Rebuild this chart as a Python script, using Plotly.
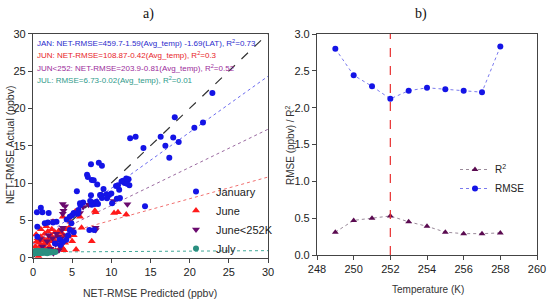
import plotly.graph_objects as go

# ---------------- Panel a data ----------------
jan_pred = [22.9, 18.1, 20.6, 21.7, 12.4, 13.1, 16.3, 17.9, 16.9, 18.6, 14.1, 17.4,
            7.4, 8.4, 8.8, 6.9, 7.5, 7.75, 8.2, 5.6, 11.3, 11.7, 12.2, 12.3, 10.6, 11.0,
            9.7, 9.45, 8.7, 10.7, 10.1, 14.3, 7.4, 8.56, 6.4, 6.05, 7.6, 7.9, 7.5, 8.1,
            1.0, 0.5, 2.0, 5.8, 5.2, 5.0, 5.7, 1.5, 1.9, 3.0, 4.3, 4.7, 0.55, 7.2, 7.8,
            4.7, 5.2, 4.25, 3.5, 2.8, 10.85, 11.5, 12.0, 11.1, 9.4, 8.8, 6.0, 7.3, 8.3,
            1.2, 2.55, 4.9, 0.56, 4.5, 3.4, 3.8, 7.0, 9.0, 11.9, 10.0]
jan_act = [22.05, 18.8, 17.4, 18.1, 16.0, 16.2, 16.2, 16.1, 15.0, 15.5, 14.7, 13.4,
           12.5, 12.7, 12.3, 11.1, 10.4, 10.36, 9.8, 8.9, 10.2, 10.0, 10.5, 9.7, 9.6, 9.1,
           8.4, 7.95, 8.4, 7.9, 7.3, 6.9, 8.35, 8.4, 7.4, 7.05, 7.4, 7.2, 7.1, 7.5,
           6.7, 6.1, 6.0, 6.4, 6.0, 5.7, 5.9, 4.6, 4.7, 4.8, 5.1, 5.5, 4.15, 3.7, 3.7,
           3.7, 3.4, 2.4, 1.7, 1.9, 9.7, 10.3, 9.9, 8.0, 8.5, 8.0, 7.3, 7.6, 7.2,
           6.1, 4.7, 4.6, 2.8, 3.0, 2.4, 2.1, 10.8, 9.2, 10.6, 8.6]

jun_pred = [0.7, 0.3, 0.5, 0.8, 1.0, 1.2, 1.4, 1.5, 1.6, 1.8, 2.0, 2.1, 2.3, 2.5, 2.6,
            2.8, 3.0, 3.1, 3.3, 3.5, 3.7, 3.9, 4.1, 4.3, 4.6, 4.8, 5.2, 5.5, 2.55, 1.0,
            0.4, 1.3, 0.9, 2.2, 3.8, 5.4, 6.0, 7.9, 8.0, 10.85, 10.35, 11.9, 7.5, 1.7,
            2.9, 4.0, 1.1, 0.6, 1.9, 3.4, 2.4, 4.5, 6.2, 5.0, 0.2, 1.5, 2.7, 3.6, 0.9, 2.0]
jun_act = [0.2, 1.5, 2.2, 2.0, 2.8, 1.6, 2.4, 3.2, 1.2, 2.0, 2.6, 1.5, 3.0, 2.2, 1.0,
           3.4, 2.8, 1.8, 3.6, 2.5, 1.4, 3.0, 2.0, 3.8, 4.0, 4.8, 3.0, 1.1, 4.8, 3.8,
           3.1, 0.9, 1.1, 0.7, 5.5, 6.2, 5.5, 6.3, 6.1, 6.1, 6.0, 5.8, 2.2, 4.2,
           0.9, 1.0, 2.3, 2.6, 3.5, 1.2, 3.8, 2.8, 4.0, 2.2, 0.9, 1.9, 2.4, 3.3, 1.6, 1.0]

jun252_pred = [3.8, 4.1, 2.7, 3.8, 3.9, 8.0, 8.0, 10.3, 12.05, 3.7, 3.8, 6.4, 6.0,
               1.2, 1.8, 2.2, 2.5, 2.9, 3.2, 3.5, 4.0, 1.5, 2.6, 3.0, 3.6, 0.9,
               2.0, 4.2, 5.0, 1.0, 3.3, 7.1]
jun252_act = [7.2, 6.9, 4.9, 5.9, 6.3, 3.7, 4.0, 7.6, 7.15, 3.7, 4.0, 6.8, 6.0,
              1.5, 2.2, 1.2, 2.6, 1.8, 2.8, 1.5, 2.2, 0.8, 0.6, 3.2, 2.6, 2.5,
              3.0, 3.0, 3.8, 0.8, 1.0, 7.1]

jul_pred = [0.05, 0.12, 0.2, 0.28, 0.35, 0.42, 0.5, 0.58, 0.65, 0.72, 0.8, 0.88, 0.95,
            1.02, 1.1, 1.18, 1.25, 1.32, 1.4, 1.48, 1.55, 1.62, 1.7, 1.78, 1.85, 1.92,
            2.0, 2.08, 2.15, 2.25, 2.35, 2.5, 2.65, 2.85, 0.3, 0.6, 0.9, 1.2, 1.5, 1.8]
jul_act = [0.75, 0.65, 0.82, 0.7, 0.9, 0.72, 0.62, 0.85, 0.75, 0.68, 0.8, 0.72, 0.88,
           0.7, 0.78, 0.64, 0.84, 0.74, 0.7, 0.8, 0.66, 0.76, 0.86, 0.72, 0.7, 0.8,
           0.74, 0.68, 0.82, 0.76, 0.72, 0.8, 0.75, 0.78, 0.6, 0.92, 0.62, 0.9, 0.86, 0.6]

# fitted lines (intercept, slope) of Actual vs Predicted
fit_names = ["January", "June", "June<252K", "July"]
fit_intercepts = [1.8, 2.1, 1.9, 0.75]
fit_slopes = [0.75, 0.29, 0.51, 0.0065]
fit_colors = ["#6a6aee", "#f07070", "#9a6aa0", "#40a898"]

eq_texts = [
    "JAN: NET-RMSE=459.7-1.59(Avg_temp) -1.69(LAT), R<sup>2</sup>=0.73",
    "JUN: NET-RMSE=108.87-0.42(Avg_temp), R<sup>2</sup>=0.3",
    "JUN<252: NET-RMSE=203.9-0.81(Avg_temp), R<sup>2</sup>=0.52",
    "JUL: RMSE=6.73-0.02(Avg_temp), R<sup>2</sup>=0.01",
]
eq_colors = ["#2a2acc", "#e8242a", "#9b2c9b", "#2f9a8a"]

# ---------------- Panel b data ----------------
temps = [249, 250, 251, 252, 253, 254, 255, 256, 257, 258]
rmse_vals = [2.80, 2.44, 2.29, 2.12, 2.23, 2.27, 2.25, 2.23, 2.21, 2.83]
r2_vals = [0.31, 0.47, 0.50, 0.53, 0.45, 0.39, 0.31, 0.29, 0.29, 0.30]
threshold_temp = 252

FONT = "Liberation Sans, Arial, sans-serif"

fig = go.Figure()

# 1:1 line
fig.add_trace(go.Scatter(x=[0, 30], y=[0, 30], mode="lines",
                         line=dict(color="#333333", width=1.2, dash="dash"),
                         showlegend=False, hoverinfo="skip", xaxis="x", yaxis="y"))
for b0, b1, c in zip(fit_intercepts, fit_slopes, fit_colors):
    xs = [0, 30]
    fig.add_trace(go.Scatter(x=xs, y=[b0 + b1 * v for v in xs], mode="lines",
                             line=dict(color=c, width=1, dash="dot"),
                             showlegend=False, hoverinfo="skip", xaxis="x", yaxis="y"))

fig.add_trace(go.Scatter(x=jun_pred, y=jun_act, mode="markers", name="June",
                         marker=dict(symbol="triangle-up", size=7, color="#ff1a1a"),
                         legend="legend", legendrank=2, xaxis="x", yaxis="y"))
fig.add_trace(go.Scatter(x=jun252_pred, y=jun252_act, mode="markers", name="June<252K",
                         marker=dict(symbol="triangle-down", size=7, color="#6a0a6e"),
                         legend="legend", legendrank=3, xaxis="x", yaxis="y"))
fig.add_trace(go.Scatter(x=jan_pred, y=jan_act, mode="markers", name="January",
                         marker=dict(symbol="circle", size=6, color="#1414e6"),
                         legend="legend", legendrank=1, xaxis="x", yaxis="y"))
fig.add_trace(go.Scatter(x=jul_pred, y=jul_act, mode="markers", name="July",
                         marker=dict(symbol="circle", size=6, color="#2a8f80"),
                         legend="legend", legendrank=4, xaxis="x", yaxis="y"))

# Panel b
fig.add_trace(go.Scatter(x=temps, y=r2_vals, mode="lines+markers", name="R<sup>2</sup>",
                         line=dict(color="#9a8a9a", width=1, dash="dot"),
                         marker=dict(symbol="triangle-up", size=6, color="#5a0a50"),
                         legend="legend2", xaxis="x2", yaxis="y2"))
fig.add_trace(go.Scatter(x=temps, y=rmse_vals, mode="lines+markers", name="RMSE",
                         line=dict(color="#7a7aee", width=1, dash="dot"),
                         marker=dict(symbol="circle", size=6, color="#1414e6"),
                         legend="legend2", xaxis="x2", yaxis="y2"))

fig.add_shape(type="line", xref="x2", yref="y2 domain", x0=threshold_temp, x1=threshold_temp,
              y0=0, y1=1, line=dict(color="#e83030", width=1.2, dash="dash"))

axis_common = dict(showgrid=False, zeroline=False, showline=True, mirror=True, automargin=False,
                   linecolor="#444444", linewidth=1.2, ticks="outside", ticklen=4,
                   tickcolor="#444444", tickfont=dict(family=FONT, size=11, color="#222222"))

W, H = 550, 301
fig.update_layout(
    width=W, height=H, margin=dict(l=0, r=0, t=0, b=0, autoexpand=False),
    plot_bgcolor="white", paper_bgcolor="white",
    xaxis=dict(domain=[33 / W, 268 / W], range=[0, 30], tickvals=[0, 5, 10, 15, 20, 25, 30],
               anchor="y", **axis_common),
    yaxis=dict(domain=[1 - 257.7 / H, 1 - 33.7 / H], range=[0, 30],
               tickvals=[0, 5, 10, 15, 20, 25, 30], anchor="x", **axis_common),
    xaxis2=dict(domain=[317 / W, 537 / W], range=[248, 260], tickvals=list(range(248, 261, 2)),
                anchor="y2", **axis_common),
    yaxis2=dict(domain=[1 - 255 / H, 1 - 34 / H], range=[0, 3],
                tickvals=[0, 0.5, 1, 1.5, 2, 2.5, 3], tickformat=".1f", anchor="x2", **axis_common),
    legend=dict(x=176 / W, y=1 - 177 / H, xanchor="left", yanchor="top",
                bgcolor="rgba(0,0,0,0)", font=dict(family=FONT, size=11, color="#222222"),
                tracegroupgap=0, itemwidth=30),
    legend2=dict(x=455 / W, y=1 - 155 / H, xanchor="left", yanchor="top",
                 bgcolor="rgba(0,0,0,0)", font=dict(family=FONT, size=10, color="#222222"),
                 tracegroupgap=0, itemwidth=30),
)

annotations = []
for i, (t, c) in enumerate(zip(eq_texts, eq_colors)):
    annotations.append(dict(text=t, xref="paper", yref="paper", x=35 / W,
                            y=1 - (43 + 12.3 * i) / H, xanchor="left", yanchor="middle",
                            showarrow=False,
                            font=dict(family=FONT, size=8, color=c)))
annotations += [
    dict(text="a)", xref="paper", yref="paper", x=148 / W, y=1 - 14 / H, showarrow=False,
         xanchor="center", yanchor="middle",
         font=dict(family="Liberation Serif, Times New Roman, serif", size=14, color="#111")),
    dict(text="b)", xref="paper", yref="paper", x=421 / W, y=1 - 14 / H, showarrow=False,
         xanchor="center", yanchor="middle",
         font=dict(family="Liberation Serif, Times New Roman, serif", size=14, color="#111")),
    dict(text="NET-RMSE Predicted (ppbv)", xref="paper", yref="paper", x=150 / W,
         y=1 - 293 / H, showarrow=False, xanchor="center", yanchor="middle",
         font=dict(family=FONT, size=10.5, color="#333")),
    dict(text="NET-RMSE Actual (ppbv)", xref="paper", yref="paper", x=10 / W,
         y=1 - 145 / H, showarrow=False, xanchor="center", yanchor="middle", textangle=-90,
         font=dict(family=FONT, size=10.5, color="#333")),
    dict(text="Temperature (K)", xref="paper", yref="paper", x=428 / W,
         y=1 - 289 / H, showarrow=False, xanchor="center", yanchor="middle",
         font=dict(family=FONT, size=10, color="#333")),
    dict(text="RMSE (ppbv) / R<sup>2</sup>", xref="paper", yref="paper", x=290 / W,
         y=1 - 145 / H, showarrow=False, xanchor="center", yanchor="middle", textangle=-90,
         font=dict(family=FONT, size=10, color="#333")),
]
fig.update_layout(annotations=annotations)

fig.write_html("out.html")
